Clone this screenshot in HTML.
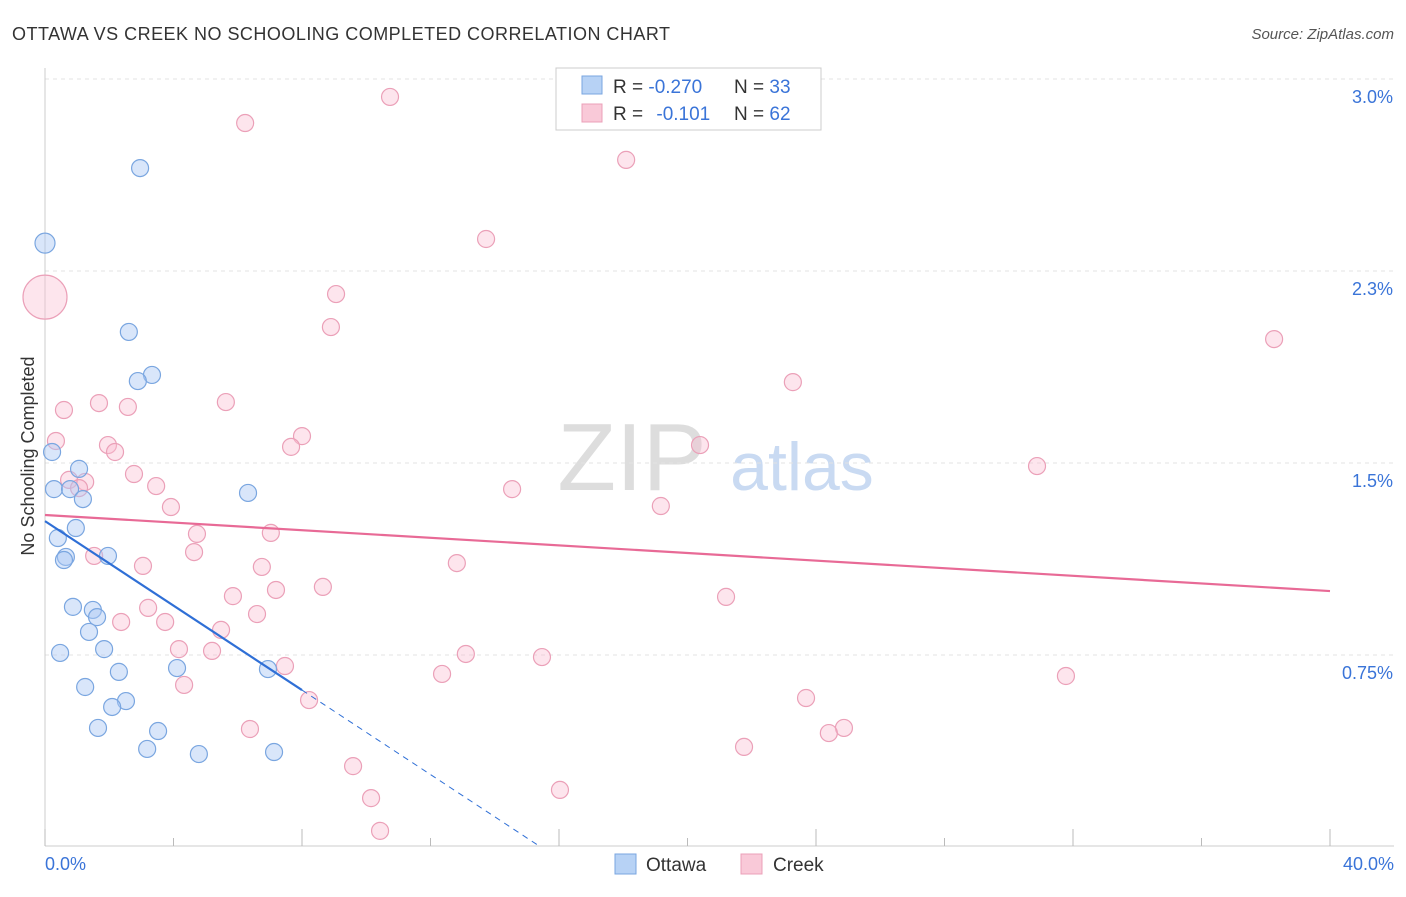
<!DOCTYPE html>
<html><head><meta charset="utf-8"><style>
body{margin:0;background:#fff;font-family:"Liberation Sans",sans-serif;}
svg text{font-family:"Liberation Sans",sans-serif;}
</style></head><body>
<svg id="chart" width="1406" height="892">
<text x="12" y="40" font-size="18" fill="#333" textLength="658">OTTAWA VS CREEK NO SCHOOLING COMPLETED CORRELATION CHART</text>
<text x="1394" y="39" font-size="15" fill="#555" text-anchor="end" font-style="italic">Source: ZipAtlas.com</text>
<text x="632" y="490" font-size="96" fill="#ddd" font-family="Liberation Serif" text-anchor="middle">ZIP</text>
<text x="802" y="490" font-size="68" fill="#c9daf2" text-anchor="middle">atlas</text>
<text transform="translate(34,456) rotate(-90)" font-size="18" fill="#333" text-anchor="middle">No Schooling Completed</text>
<g id="grid"></g><g id="marks"></g>
<g>
<rect x="556" y="68" width="265" height="62" fill="#fff" stroke="#ccc"/>
<rect x="582" y="76" width="20" height="18" fill="#b7d2f5" stroke="#7aa6e0"/>
<rect x="582" y="104" width="20" height="18" fill="#f9c9d8" stroke="#eba0b8"/>
<text x="613" y="93" font-size="19" fill="#333">R = <tspan fill="#3a74d8">-0.270</tspan></text>
<text x="734" y="93" font-size="19" fill="#333">N = <tspan fill="#3a74d8">33</tspan></text>
<text x="613" y="120" font-size="19" fill="#333">R = <tspan fill="#3a74d8" dx="8">-0.101</tspan></text>
<text x="734" y="120" font-size="19" fill="#333">N = <tspan fill="#3a74d8">62</tspan></text>
</g>
<g>
<rect x="615" y="854" width="21" height="20" fill="#b7d2f5" stroke="#7aa6e0"/>
<text x="646" y="871" font-size="19" fill="#333">Ottawa</text>
<rect x="741" y="854" width="21" height="20" fill="#f9c9d8" stroke="#eba0b8"/>
<text x="773" y="871" font-size="19" fill="#333">Creek</text>
</g>
</svg>
<script>
const yTicks=[0.75,1.5,2.25,3.0];
const yTickLabels=["0.75%","1.5%","2.3%","3.0%"];
const xTickLabels=["0.0%","40.0%"];
const ottawaX=[0.0,2.96,2.61,3.33,2.89,0.22,1.06,0.28,0.78,1.18,6.32,0.96,0.40,0.65,0.59,1.96,0.87,1.49,1.62,1.37,0.47,1.84,4.11,6.94,2.30,1.25,2.52,2.09,1.65,3.52,3.18,4.79,7.13];
const ottawaY=[2.359,2.652,2.012,1.844,1.820,1.543,1.477,1.398,1.398,1.359,1.383,1.246,1.207,1.133,1.121,1.137,0.938,0.926,0.898,0.840,0.758,0.773,0.699,0.695,0.684,0.625,0.570,0.547,0.465,0.453,0.383,0.363,0.371];
const creekX=[0.0,10.74,6.23,18.09,13.73,9.06,8.90,38.26,23.28,0.59,1.68,2.58,5.63,0.34,1.96,2.18,8.00,7.66,20.39,30.88,2.77,0.75,1.25,1.06,3.46,14.54,3.92,19.17,4.73,7.03,1.53,4.64,3.05,12.82,6.75,8.65,7.19,5.85,21.20,3.21,6.60,2.37,3.74,5.48,4.17,5.20,13.10,15.47,7.47,12.36,31.78,4.33,8.22,23.69,6.38,24.87,24.40,21.76,9.59,16.03,10.15,10.43];
const creekY=[2.148,2.930,2.828,2.684,2.375,2.160,2.031,1.984,1.816,1.707,1.734,1.719,1.738,1.586,1.570,1.543,1.605,1.563,1.570,1.488,1.457,1.434,1.426,1.402,1.410,1.398,1.328,1.332,1.223,1.227,1.137,1.152,1.098,1.109,1.094,1.016,1.004,0.980,0.977,0.934,0.910,0.879,0.879,0.848,0.773,0.766,0.754,0.742,0.707,0.676,0.668,0.633,0.574,0.582,0.461,0.465,0.445,0.391,0.316,0.223,0.191,0.063];
const ottawaTrend=[1.273,-0.0825];
const creekTrend=[1.297,-0.00743];
const X=v=>45+v/40*1285, Y=v=>847-v*256;
const NS="http://www.w3.org/2000/svg";
function mk(t,a,p){const e=document.createElementNS(NS,t);for(const k in a)e.setAttribute(k,a[k]);p.appendChild(e);return e;}
const grid=document.getElementById('grid'),marks=document.getElementById('marks');
yTicks.forEach((t,i)=>{
 const l=mk('line',{x1:45,x2:1394,y1:Y(t),y2:Y(t),stroke:'#e3e3e3','stroke-dasharray':'4,4'},grid);
 
 
 const tx=mk('text',{x:1393,y:Y(t)+24,'font-size':18,fill:'#3a74d8','text-anchor':'end'},grid);tx.textContent=yTickLabels[i];
 
 
});
mk('line',{x1:45,x2:45,y1:68,y2:846,stroke:'#ccc'},grid);
mk('line',{x1:45,x2:1394,y1:846,y2:846,stroke:'#ccc'},grid);
for(let i=0;i<=10;i++){const t=mk('line',{x1:X(i*4),x2:X(i*4),y1:846,y2:i%2?838:829,stroke:'#bbb'},grid);
 
 }
[[0,'start',45],[1,'end',1394]].forEach(([i,a,x])=>{const t=mk('text',{x:x,y:870,'font-size':18,fill:'#3a74d8','text-anchor':a},grid);t.textContent=xTickLabels[i];
 
 });
creekX.forEach((x,i)=>{const c=mk('circle',{cx:X(x),cy:Y(creekY[i]),r:i==0?22:8.5,fill:'rgba(249,190,210,0.4)',stroke:'#eba0b8','stroke-width':1.2},marks);
 
 });
ottawaX.forEach((x,i)=>{const c=mk('circle',{cx:X(x),cy:Y(ottawaY[i]),r:i==0?10:8.5,fill:'rgba(170,200,245,0.45)',stroke:'#7aa6e0','stroke-width':1.2},marks);
 
 });
let pl=mk('line',{x1:X(0),y1:Y(creekTrend[0]),x2:X(40),y2:Y(creekTrend[0]+creekTrend[1]*40),stroke:'#e86a96','stroke-width':2.2},marks);


let bl=mk('line',{x1:X(0),y1:Y(ottawaTrend[0]),x2:X(8),y2:Y(ottawaTrend[0]+ottawaTrend[1]*8),stroke:'#2f6fd6','stroke-width':2.2},marks);


const xEnd=-ottawaTrend[0]/ottawaTrend[1];
let bd=mk('line',{x1:X(8),y1:Y(ottawaTrend[0]+ottawaTrend[1]*8),x2:X(xEnd),y2:Y(0),stroke:'#2f6fd6','stroke-width':1,'stroke-dasharray':'6,5'},marks);


</script>
</body></html>
